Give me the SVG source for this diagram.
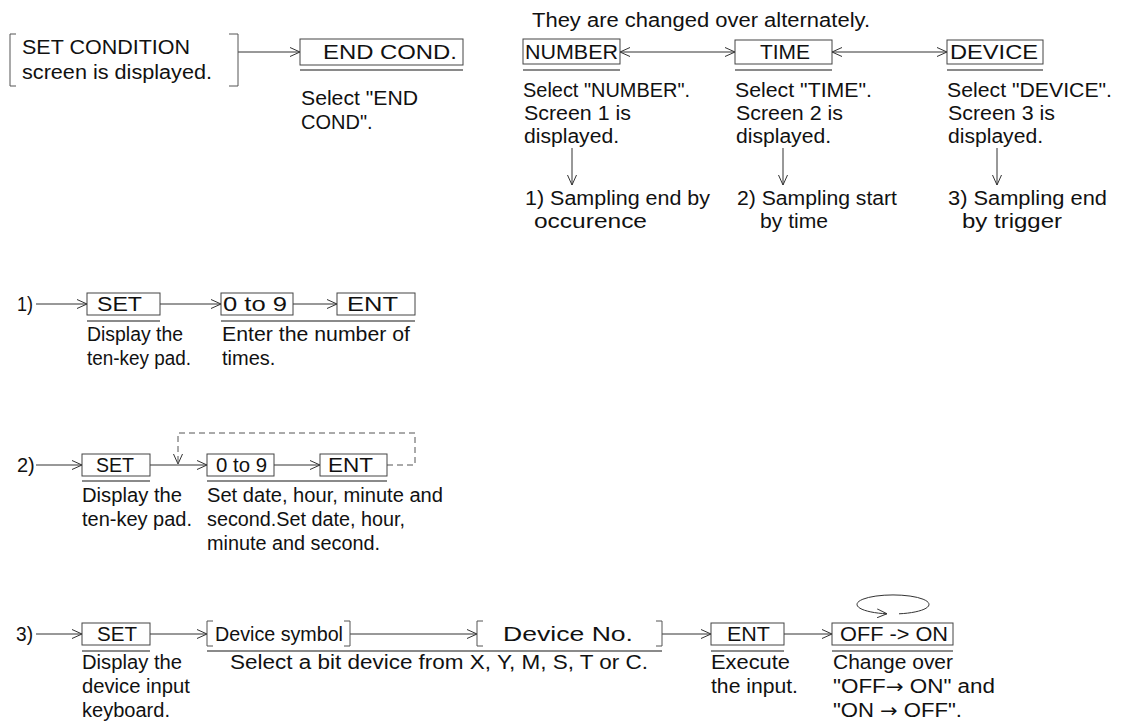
<svg xmlns="http://www.w3.org/2000/svg" width="1123" height="726" viewBox="0 0 1123 726">
<style>
text{font-family:"Liberation Sans",Arial,sans-serif;font-size:20px;fill:#111}
.c{text-anchor:middle}
.ar{font-family:"DejaVu Sans",sans-serif;font-size:19px}
.box{fill:#fff;stroke:#444;stroke-width:1}
.ul{stroke:#8a8a8a;stroke-width:2;fill:none}
.ln{stroke:#333;stroke-width:1;fill:none}
.br{stroke:#555;stroke-width:1;fill:none}
.dash{stroke:#555;stroke-width:1;fill:none;stroke-dasharray:6 4}
</style>
<defs>
<marker id="ah" viewBox="0 0 10 10" refX="10" refY="5" markerWidth="10" markerHeight="10" markerUnits="userSpaceOnUse" orient="auto-start-reverse">
<path d="M0,0.5 L10,5 L0,9.5" fill="none" stroke="#333" stroke-width="1"/>
</marker>
</defs>

<g id="connectors">
<line class="ln" x1="238" y1="52" x2="300" y2="52" marker-end="url(#ah)"/>
<line class="ln" x1="620" y1="52" x2="735" y2="52" marker-start="url(#ah)" marker-end="url(#ah)"/>
<line class="ln" x1="832" y1="52" x2="947" y2="52" marker-start="url(#ah)" marker-end="url(#ah)"/>
<line class="ln" x1="572" y1="148" x2="572" y2="185" marker-end="url(#ah)"/>
<line class="ln" x1="783" y1="148" x2="783" y2="185" marker-end="url(#ah)"/>
<line class="ln" x1="997" y1="148" x2="997" y2="185" marker-end="url(#ah)"/>
<line class="ln" x1="36" y1="304" x2="87" y2="304" marker-end="url(#ah)"/>
<line class="ln" x1="160" y1="304" x2="221" y2="304" marker-end="url(#ah)"/>
<line class="ln" x1="293" y1="304" x2="337" y2="304" marker-end="url(#ah)"/>
<line class="ln" x1="36" y1="465" x2="82" y2="465" marker-end="url(#ah)"/>
<line class="ln" x1="150" y1="465" x2="207" y2="465" marker-end="url(#ah)"/>
<line class="ln" x1="274" y1="465" x2="320" y2="465" marker-end="url(#ah)"/>
<path class="dash" d="M387,465 H415 V433 H178 V464" marker-end="url(#ah)"/>
<line class="ln" x1="36" y1="634" x2="82" y2="634" marker-end="url(#ah)"/>
<line class="ln" x1="150" y1="634" x2="207" y2="634" marker-end="url(#ah)"/>
<line class="ln" x1="350" y1="634" x2="477" y2="634" marker-end="url(#ah)"/>
<line class="ln" x1="662" y1="634" x2="711" y2="634" marker-end="url(#ah)"/>
<line class="ln" x1="784" y1="634" x2="832" y2="634" marker-end="url(#ah)"/>
<path class="ln" d="M899,613.8 A36,9.5 0 1 0 887,613.8" marker-end="url(#ah)"/>
</g>

<g id="set-condition">
<path class="br" d="M16,34 H10 V86 H16 M229,34 H238 V86 H229"/>
<text x="22" y="54" textLength="168" lengthAdjust="spacingAndGlyphs">SET CONDITION</text>
<text x="22" y="79" textLength="190" lengthAdjust="spacingAndGlyphs">screen is displayed.</text>
</g>

<g id="end-cond">
<rect class="box" x="300" y="39" width="163" height="26"/>
<text x="323" y="59" textLength="134" lengthAdjust="spacingAndGlyphs">END COND.</text>
<line class="ul" x1="300" y1="70" x2="463" y2="70"/>
<text x="301" y="105" textLength="117" lengthAdjust="spacingAndGlyphs">Select "END</text>
<text x="301" y="129">COND".</text>
</g>

<g id="note-alternate">
<text x="532" y="27" textLength="338" lengthAdjust="spacingAndGlyphs">They are changed over alternately.</text>
</g>

<g id="number">
<rect class="box" x="523" y="39" width="97" height="25"/>
<text x="525" y="59" textLength="93" lengthAdjust="spacingAndGlyphs">NUMBER</text>
<line class="ul" x1="523" y1="70" x2="620" y2="70"/>
<text x="523" y="97" textLength="167" lengthAdjust="spacingAndGlyphs">Select "NUMBER".</text>
<text x="524" y="120" textLength="107" lengthAdjust="spacingAndGlyphs">Screen 1 is</text>
<text x="524" y="143" textLength="95" lengthAdjust="spacingAndGlyphs">displayed.</text>
</g>

<g id="time">
<rect class="box" x="735" y="40" width="97" height="24"/>
<text x="760" y="59" textLength="50" lengthAdjust="spacingAndGlyphs">TIME</text>
<line class="ul" x1="735" y1="70" x2="832" y2="70"/>
<text x="735" y="97" textLength="137" lengthAdjust="spacingAndGlyphs">Select "TIME".</text>
<text x="736" y="120" textLength="107" lengthAdjust="spacingAndGlyphs">Screen 2 is</text>
<text x="736" y="143" textLength="95" lengthAdjust="spacingAndGlyphs">displayed.</text>
</g>

<g id="device">
<rect class="box" x="947" y="40" width="96" height="24"/>
<text x="950" y="59" textLength="88" lengthAdjust="spacingAndGlyphs">DEVICE</text>
<line class="ul" x1="947" y1="70" x2="1043" y2="70"/>
<text x="947" y="97" textLength="165" lengthAdjust="spacingAndGlyphs">Select "DEVICE".</text>
<text x="948" y="120" textLength="107" lengthAdjust="spacingAndGlyphs">Screen 3 is</text>
<text x="948" y="143" textLength="95" lengthAdjust="spacingAndGlyphs">displayed.</text>
</g>

<g id="result-1">
<text x="525" y="205" textLength="185" lengthAdjust="spacingAndGlyphs">1) Sampling end by</text>
<text x="534" y="228" textLength="113" lengthAdjust="spacingAndGlyphs">occurence</text>
</g>
<g id="result-2">
<text x="737" y="205" textLength="160" lengthAdjust="spacingAndGlyphs">2) Sampling start</text>
<text x="760" y="228" textLength="68" lengthAdjust="spacingAndGlyphs">by time</text>
</g>
<g id="result-3">
<text x="948" y="205" textLength="159" lengthAdjust="spacingAndGlyphs">3) Sampling end</text>
<text x="962" y="228" textLength="100" lengthAdjust="spacingAndGlyphs">by trigger</text>
</g>

<g id="row1">
<text x="17" y="311" textLength="16" lengthAdjust="spacingAndGlyphs">1)</text>
<rect class="box" x="87" y="293" width="73" height="22"/>
<text x="97" y="311" textLength="45" lengthAdjust="spacingAndGlyphs">SET</text>
<rect class="box" x="221" y="293" width="72" height="22"/>
<text x="223" y="311" textLength="64" lengthAdjust="spacingAndGlyphs">0 to 9</text>
<rect class="box" x="337" y="293" width="78" height="22"/>
<text x="347" y="311" textLength="51" lengthAdjust="spacingAndGlyphs">ENT</text>
<line class="ul" x1="87" y1="321" x2="160" y2="321"/>
<line class="ul" x1="221" y1="321" x2="415" y2="321"/>
<text x="87" y="341" textLength="96" lengthAdjust="spacingAndGlyphs">Display the</text>
<text x="87" y="365" textLength="104" lengthAdjust="spacingAndGlyphs">ten-key pad.</text>
<text x="222" y="341" textLength="188" lengthAdjust="spacingAndGlyphs">Enter the number of</text>
<text x="222" y="365">times.</text>
</g>

<g id="row2">
<text x="17" y="472">2)</text>
<rect class="box" x="82" y="454" width="68" height="22"/>
<text x="96" y="472" textLength="38" lengthAdjust="spacingAndGlyphs">SET</text>
<rect class="box" x="207" y="454" width="67" height="22"/>
<text x="216" y="472" textLength="51" lengthAdjust="spacingAndGlyphs">0 to 9</text>
<rect class="box" x="320" y="454" width="67" height="22"/>
<text x="328" y="472" textLength="45" lengthAdjust="spacingAndGlyphs">ENT</text>
<line class="ul" x1="82" y1="481" x2="150" y2="481"/>
<line class="ul" x1="207" y1="481" x2="387" y2="481"/>
<text x="82" y="502" textLength="100" lengthAdjust="spacingAndGlyphs">Display the</text>
<text x="82" y="526" textLength="110" lengthAdjust="spacingAndGlyphs">ten-key pad.</text>
<text x="207" y="502" textLength="236" lengthAdjust="spacingAndGlyphs">Set date, hour, minute and</text>
<text x="207" y="526" textLength="198" lengthAdjust="spacingAndGlyphs">second.Set date, hour,</text>
<text x="207" y="550" textLength="173" lengthAdjust="spacingAndGlyphs">minute and second.</text>
</g>

<g id="row3">
<text x="16" y="641" textLength="17" lengthAdjust="spacingAndGlyphs">3)</text>
<rect class="box" x="82" y="623" width="68" height="22"/>
<text x="97" y="641" textLength="40" lengthAdjust="spacingAndGlyphs">SET</text>
<path class="br" d="M213,621 H207 V646 H213 M344,621 H350 V646 H344"/>
<text x="215" y="641" textLength="128" lengthAdjust="spacingAndGlyphs">Device symbol</text>
<path class="br" d="M483,621 H477 V646 H483 M656,621 H662 V646 H656"/>
<text x="503" y="641" textLength="130" lengthAdjust="spacingAndGlyphs">Device No.</text>
<rect class="box" x="711" y="623" width="73" height="22"/>
<text x="727" y="641" textLength="43" lengthAdjust="spacingAndGlyphs">ENT</text>
<rect class="box" x="832" y="623" width="121" height="22"/>
<text x="840" y="641" textLength="108" lengthAdjust="spacingAndGlyphs">OFF -&gt; ON</text>
<line class="ul" x1="82" y1="651" x2="150" y2="651"/>
<line class="ul" x1="207" y1="651" x2="662" y2="651"/>
<line class="ul" x1="711" y1="651" x2="784" y2="651"/>
<line class="ul" x1="832" y1="651" x2="953" y2="651"/>
<text x="82" y="669" textLength="100" lengthAdjust="spacingAndGlyphs">Display the</text>
<text x="82" y="693" textLength="108" lengthAdjust="spacingAndGlyphs">device input</text>
<text x="82" y="717" textLength="88" lengthAdjust="spacingAndGlyphs">keyboard.</text>
<text x="230" y="669" textLength="418" lengthAdjust="spacingAndGlyphs">Select a bit device from X, Y, M, S, T or C.</text>
<text x="711" y="669" textLength="79" lengthAdjust="spacingAndGlyphs">Execute</text>
<text x="711" y="693" textLength="87" lengthAdjust="spacingAndGlyphs">the input.</text>
<text x="833" y="669" textLength="120" lengthAdjust="spacingAndGlyphs">Change over</text>
<text x="833" y="693" textLength="162" lengthAdjust="spacingAndGlyphs">"OFF<tspan class="ar">→</tspan> ON" and</text>
<text x="833" y="717" textLength="129" lengthAdjust="spacingAndGlyphs">"ON <tspan class="ar">→</tspan> OFF".</text>
</g>
</svg>
